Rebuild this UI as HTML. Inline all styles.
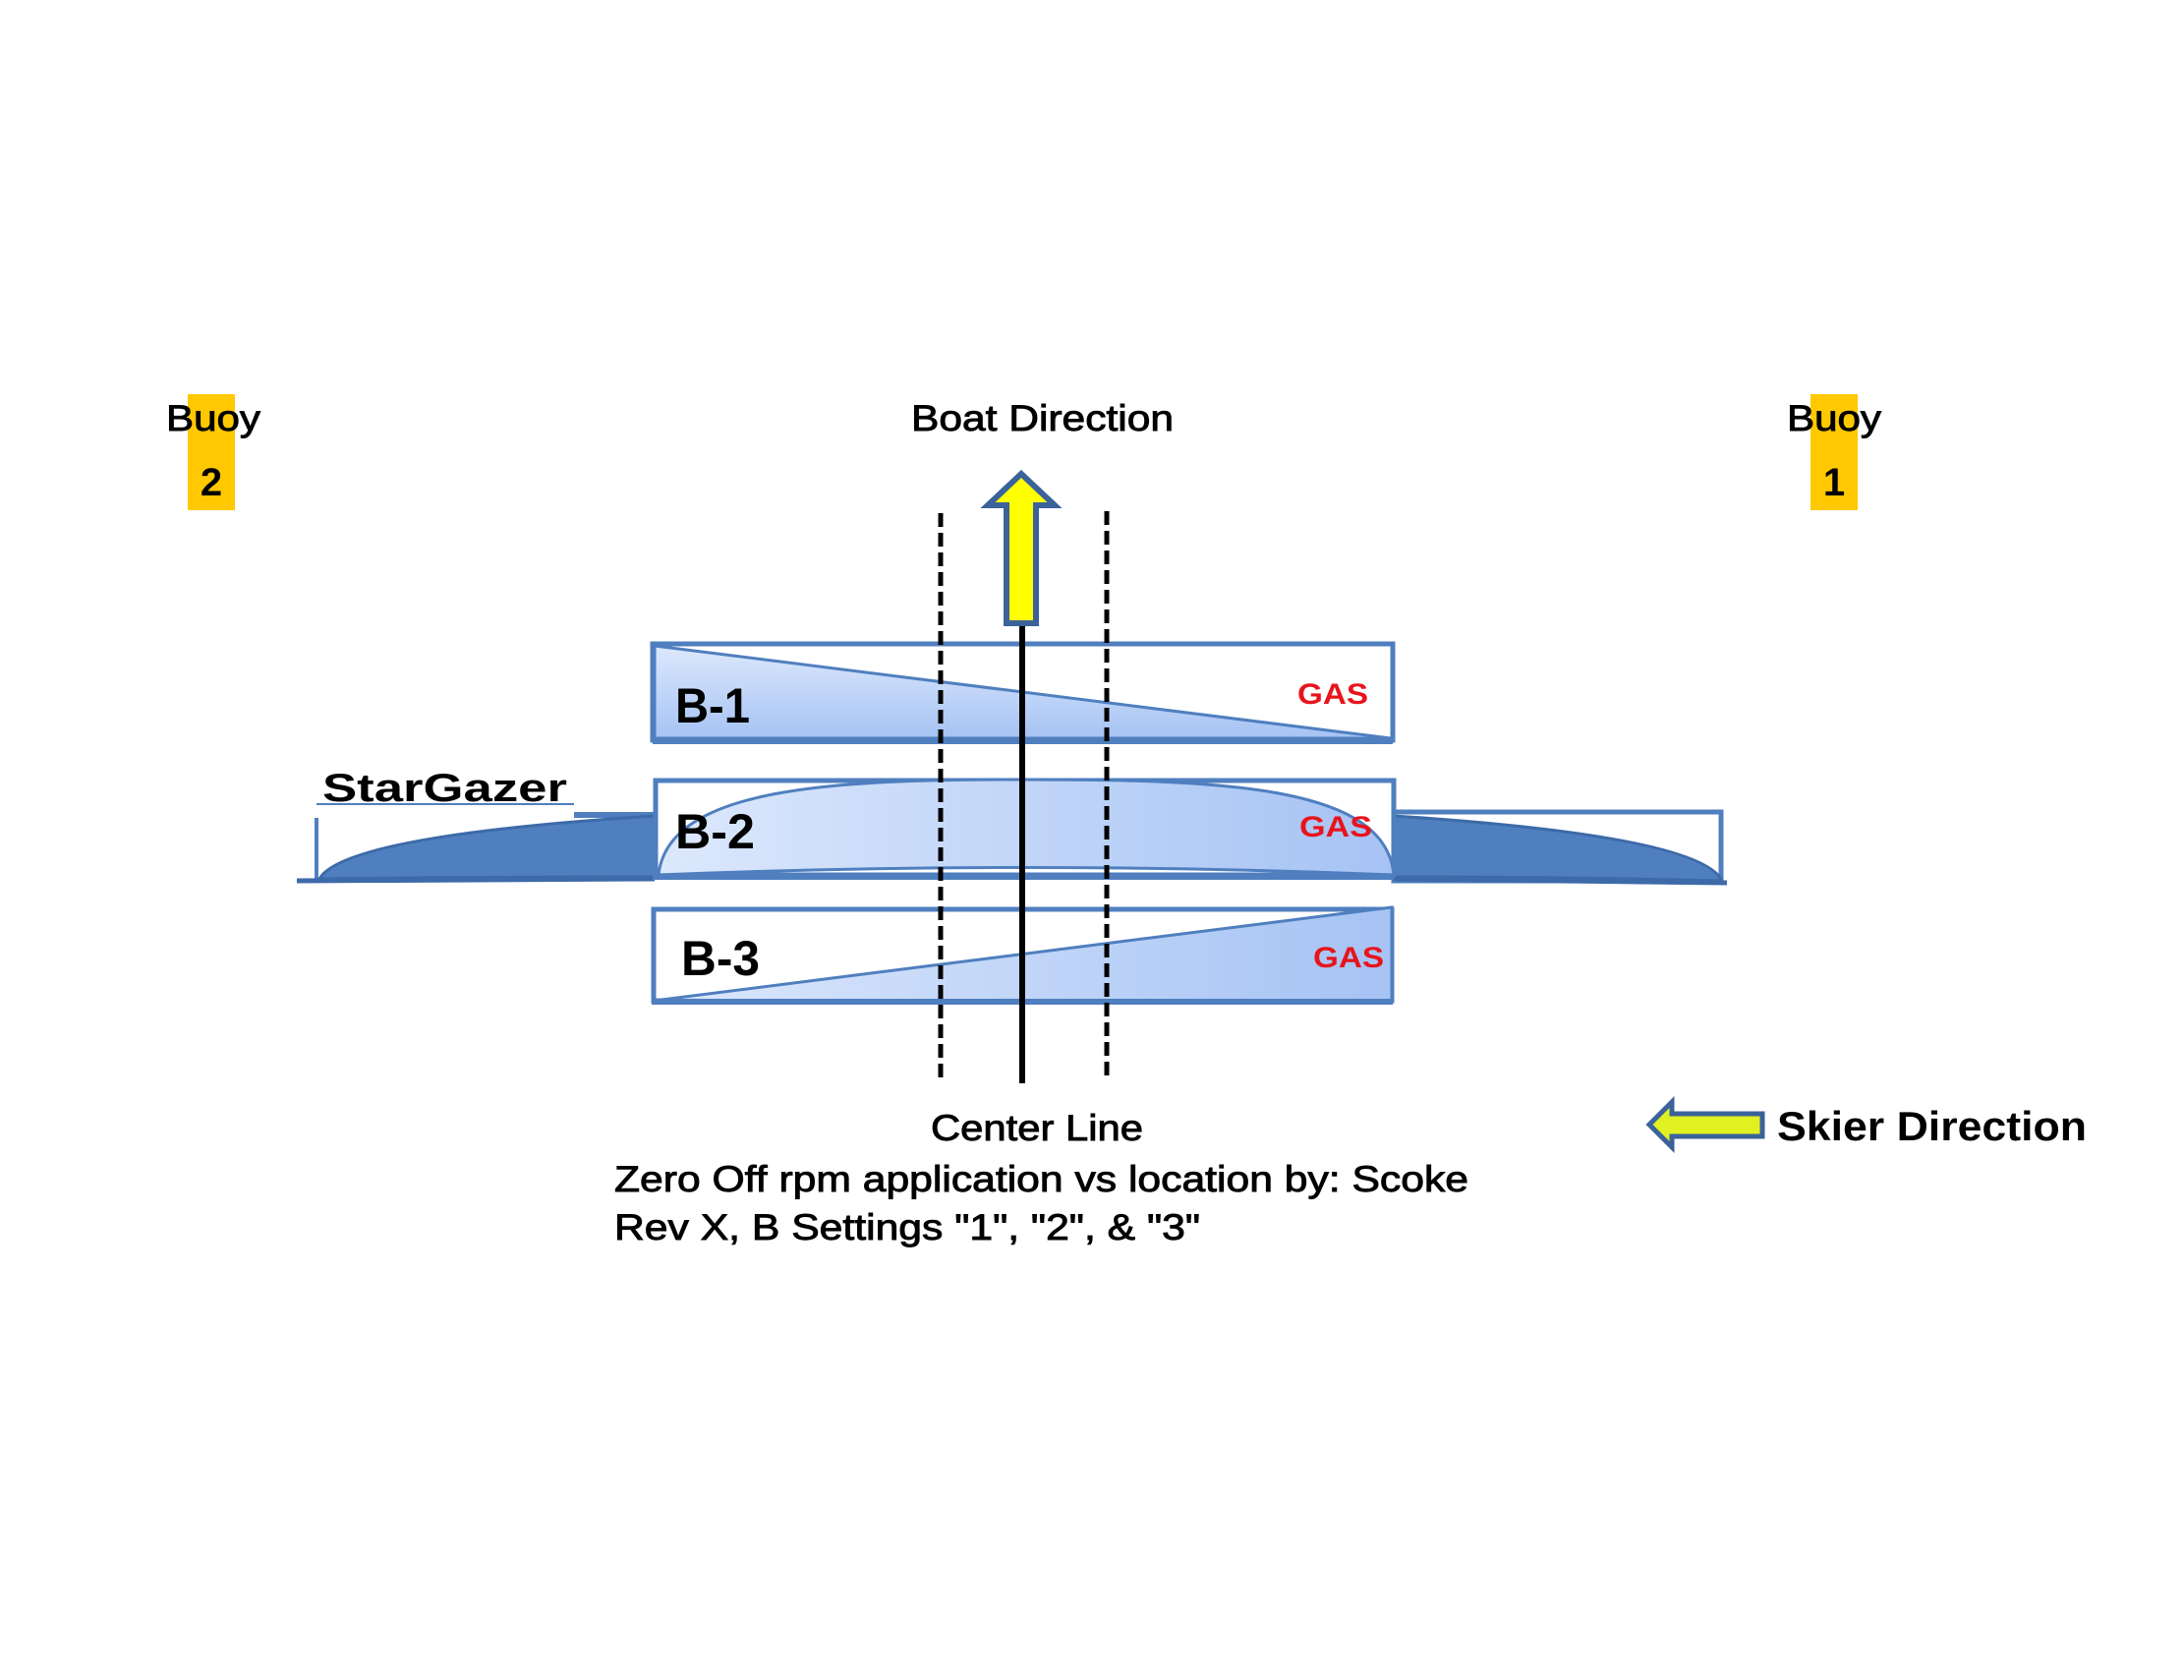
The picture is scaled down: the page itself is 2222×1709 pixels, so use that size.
<!DOCTYPE html>
<html><head><meta charset="utf-8"><style>
html,body{margin:0;padding:0;background:#fff;}
svg{display:block;}
text{font-family:"Liberation Sans",Arial,sans-serif;}
.m{stroke:#000;stroke-width:0.9;}
</style></head><body>
<svg width="2222" height="1709" viewBox="0 0 2222 1709" xmlns="http://www.w3.org/2000/svg">
<defs>
<linearGradient id="g" x1="0" y1="0" x2="1" y2="0">
<stop offset="0" stop-color="#dce8fc"/><stop offset="1" stop-color="#a6c3f4"/>
</linearGradient>
<linearGradient id="gv" x1="0" y1="0" x2="0" y2="1">
<stop offset="0" stop-color="#dce8fc"/><stop offset="1" stop-color="#a6c3f4"/>
</linearGradient>
</defs>
<!-- Buoys -->
<rect x="191" y="401" width="48" height="118" fill="#ffc800"/>
<text class="m" x="169" y="438" font-size="37" textLength="96" lengthAdjust="spacingAndGlyphs">Buoy</text>
<text x="215" y="504" font-size="40" font-weight="bold" text-anchor="middle">2</text>
<rect x="1842" y="401" width="48" height="118" fill="#ffc800"/>
<text class="m" x="1818" y="438" font-size="37" textLength="96" lengthAdjust="spacingAndGlyphs">Buoy</text>
<text x="1866" y="504" font-size="40" font-weight="bold" text-anchor="middle">1</text>
<text class="m" x="927" y="438" font-size="37" textLength="267" lengthAdjust="spacingAndGlyphs">Boat Direction</text>

<!-- StarGazer side pieces -->
<text x="328" y="815" font-size="40" font-weight="bold" textLength="249" lengthAdjust="spacingAndGlyphs">StarGazer</text>
<line x1="322" y1="818" x2="584" y2="818" stroke="#4f7fbf" stroke-width="2"/>
<line x1="322" y1="832" x2="322" y2="895" stroke="#4f7fbf" stroke-width="4"/>
<rect x="584" y="826" width="82" height="6" fill="#4f7fbf"/>
<path d="M325,894 Q350,850 666,830 L666,892 Q500,892 325,894 Z" fill="#4f7fbf" stroke="#3d6aa8" stroke-width="3"/>
<line x1="302" y1="896" x2="666" y2="894" stroke="#3d6aa8" stroke-width="5"/>
<rect x="1418" y="826" width="333" height="70" fill="none" stroke="#4f7fbf" stroke-width="5"/>
<path d="M1418,830 Q1730,850 1752,896 Q1600,892 1418,892 Z" fill="#4f7fbf" stroke="#3d6aa8" stroke-width="3"/>
<line x1="1418" y1="894" x2="1757" y2="898" stroke="#3d6aa8" stroke-width="5"/>

<!-- B-1 -->
<rect x="664" y="655" width="753" height="98" fill="#fff" stroke="#4f7fbf" stroke-width="5"/>
<polygon points="666,657 1415,751 666,751" fill="url(#gv)" stroke="#4f7fbf" stroke-width="3"/>
<line x1="664" y1="754" x2="1417" y2="754" stroke="#4f7fbf" stroke-width="6"/>
<text x="687" y="735" font-size="50" font-weight="bold" textLength="76" lengthAdjust="spacingAndGlyphs">B-1</text>
<text x="1320" y="716" font-size="30" font-weight="bold" fill="#e8141c" textLength="72" lengthAdjust="spacingAndGlyphs">GAS</text>

<!-- B-2 -->
<rect x="667" y="794" width="751" height="96" fill="#fff" stroke="#4f7fbf" stroke-width="5"/>
<path d="M670,890 C680,800 850,793 1040,793 C1250,793 1410,800 1418,890 Q1040,875 670,890 Z" fill="url(#g)" stroke="#4f7fbf" stroke-width="3"/>
<line x1="664" y1="892" x2="1418" y2="892" stroke="#4f7fbf" stroke-width="6"/>
<text x="687" y="863" font-size="50" font-weight="bold" textLength="81" lengthAdjust="spacingAndGlyphs">B-2</text>
<text x="1322" y="851" font-size="30" font-weight="bold" fill="#e8141c" textLength="74" lengthAdjust="spacingAndGlyphs">GAS</text>

<!-- B-3 -->
<rect x="665" y="925" width="751" height="93" fill="#fff" stroke="#4f7fbf" stroke-width="5"/>
<polygon points="665,1018 1416,923 1416,1018" fill="url(#g)" stroke="#4f7fbf" stroke-width="3"/>
<line x1="663" y1="1019" x2="1417" y2="1019" stroke="#4f7fbf" stroke-width="6"/>
<text x="693" y="992" font-size="50" font-weight="bold" textLength="80" lengthAdjust="spacingAndGlyphs">B-3</text>
<text x="1336" y="984" font-size="30" font-weight="bold" fill="#e8141c" textLength="72" lengthAdjust="spacingAndGlyphs">GAS</text>

<!-- lines -->
<line x1="957" y1="522" x2="957" y2="1098" stroke="#000" stroke-width="5" stroke-dasharray="14,6"/>
<line x1="1126" y1="520" x2="1126" y2="1098" stroke="#000" stroke-width="5" stroke-dasharray="14,6"/>
<line x1="1040" y1="636" x2="1040" y2="1102" stroke="#000" stroke-width="6"/>

<!-- boat arrow -->
<polygon points="1039,482 1005,514 1024,514 1024,634 1054,634 1054,514 1073,514" fill="#ffff00" stroke="#3b629b" stroke-width="6" stroke-linejoin="miter"/>

<!-- bottom text -->
<text class="m" x="947" y="1160" font-size="37" textLength="216" lengthAdjust="spacingAndGlyphs">Center Line</text>
<text class="m" x="625" y="1212" font-size="37" textLength="869" lengthAdjust="spacingAndGlyphs">Zero Off rpm application vs location by: Scoke</text>
<text class="m" x="625" y="1261" font-size="37" textLength="596" lengthAdjust="spacingAndGlyphs">Rev X, B Settings "1", "2", &amp; "3"</text>

<!-- skier arrow -->
<polygon points="1678,1144 1701,1121 1701,1133 1793,1133 1793,1156 1701,1156 1701,1167" fill="#e0f020" stroke="#3b629b" stroke-width="5"/>
<text x="1808" y="1160" font-size="42" font-weight="bold" textLength="315" lengthAdjust="spacingAndGlyphs">Skier Direction</text>
</svg>
</body></html>
